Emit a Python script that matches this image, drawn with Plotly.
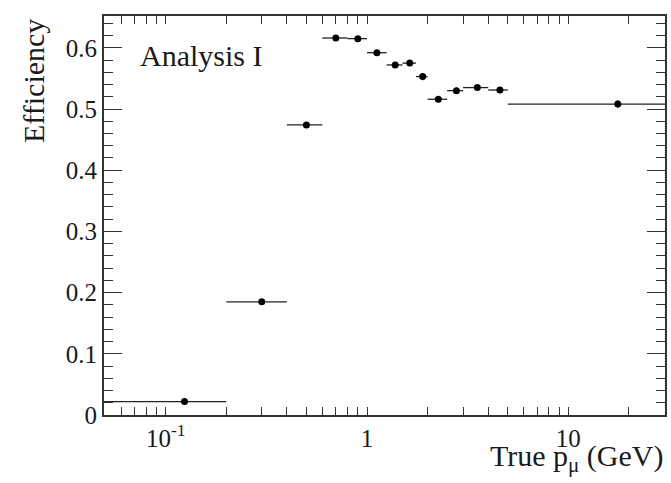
import plotly.graph_objects as go
from plotly.subplots import make_subplots

# Data
p_mean = [0.124, 0.30, 0.50, 0.70, 0.90, 1.12, 1.38, 1.63, 1.89, 2.26, 2.78, 3.53, 4.57, 17.6]
bin_lo = [0.03, 0.20, 0.40, 0.60, 0.80, 1.00, 1.25, 1.50, 1.75, 2.00, 2.50, 3.00, 4.00, 5.00]
bin_hi = [0.20, 0.40, 0.60, 0.80, 1.00, 1.25, 1.50, 1.75, 2.00, 2.50, 3.00, 4.00, 5.00, 50.0]
efficiency = [0.022, 0.185, 0.474, 0.616, 0.615, 0.592, 0.572, 0.575, 0.553, 0.516, 0.530, 0.535, 0.531, 0.508]
eff_err = [0.002, 0.002, 0.002, 0.002, 0.002, 0.003, 0.004, 0.005, 0.006, 0.004, 0.005, 0.004, 0.005, 0.006]

x_tickvals = [0.06, 0.07, 0.08, 0.09, 0.1, 0.2, 0.3, 0.4, 0.5, 0.6, 0.7, 0.8, 0.9,
              1, 2, 3, 4, 5, 6, 7, 8, 9, 10, 20]
x_ticktext = ["", "", "", "", "10<sup>-1</sup>", "", "", "", "", "", "", "", "",
              "1", "", "", "", "", "", "", "", "", "10", ""]
y_major = [0, 0.1, 0.2, 0.3, 0.4, 0.5, 0.6]
y_major_text = ["0", "0.1", "0.2", "0.3", "0.4", "0.5", "0.6"]

err_plus = [h - m for h, m in zip(bin_hi, p_mean)]
err_minus = [m - l for m, l in zip(p_mean, bin_lo)]

FONT = "Liberation Serif"
INK = "#1a1a1a"
AX = "#333333"

fig = make_subplots(rows=1, cols=1)
fig.add_trace(go.Scatter(
    x=p_mean, y=efficiency, mode="markers",
    marker=dict(color="black", size=7),
    error_x=dict(type="data", symmetric=False, array=err_plus, arrayminus=err_minus,
                 color="#222222", thickness=1.3, width=0),
    error_y=dict(type="data", array=eff_err, color="#222222", thickness=1.3, width=0),
), 1, 1)

common = dict(showgrid=False, zeroline=False, ticks="inside", tickwidth=1,
              tickcolor=AX, mirror="ticks", showline=True, linecolor=AX, linewidth=2)

fig.update_xaxes(type="log", range=[-1.3065, 1.48], tickmode="array",
                 tickvals=x_tickvals, ticktext=x_ticktext, ticklen=8,
                 domain=[0.0727, 1.0], **common)
fig.update_yaxes(range=[0, 0.652], tickmode="array", tickvals=y_major,
                 ticktext=y_major_text, ticklen=18,
                 domain=[0.0194, 0.9855],
                 minor=dict(dtick=0.02, tick0=0, ticks="inside", ticklen=9,
                            tickwidth=1, tickcolor=AX, showgrid=False),
                 **common)

fig.update_layout(
    template="none",
    width=671, height=483, showlegend=False,
    margin=dict(l=60, r=6, t=10, b=60),
    font=dict(family=FONT, color=INK, size=25),
    annotations=[
        dict(text="Analysis I", xref="paper", yref="paper", x=0.1289, y=0.891,
             xanchor="left", yanchor="middle", showarrow=False,
             font=dict(family=FONT, size=30, color=INK)),
        dict(text="Efficiency", xref="paper", yref="paper", x=-0.0446, y=0.983,
             xanchor="center", yanchor="top", textangle=-90, showarrow=False,
             font=dict(family=FONT, size=30, color=INK)),
        dict(text="True p<sub>μ</sub> (GeV)", xref="paper", yref="paper", x=1.0, y=-0.085,
             xanchor="right", yanchor="middle", showarrow=False,
             font=dict(family=FONT, size=30, color=INK)),
    ],
)

fig.write_html("out.html")
